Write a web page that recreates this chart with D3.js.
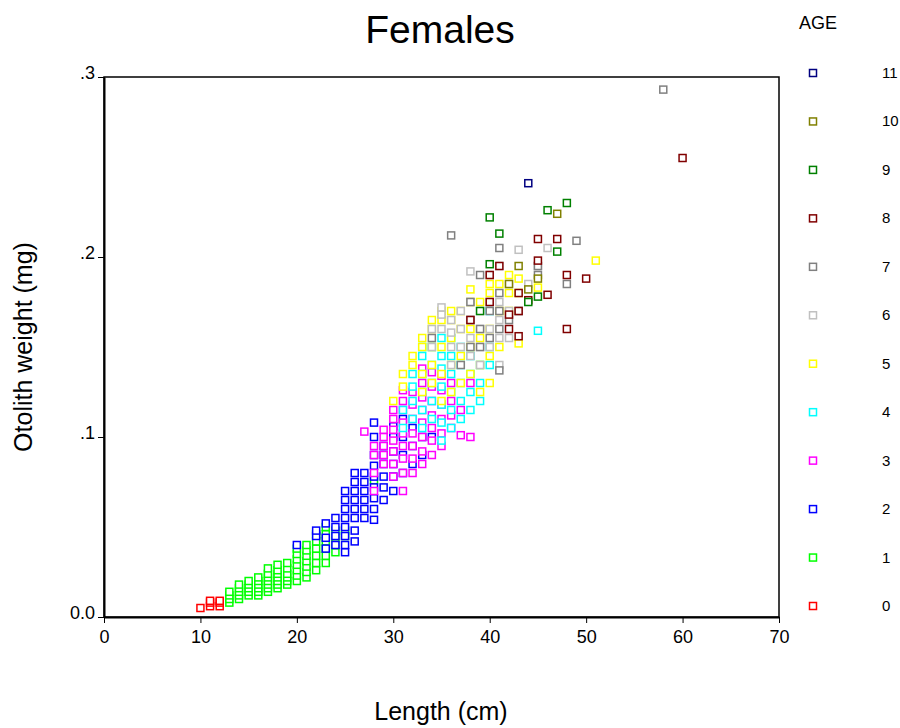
<!DOCTYPE html>
<html><head><meta charset="utf-8">
<script src="https://cdn.jsdelivr.net/npm/d3@7"></script>
<style>body{margin:0;background:#fff;font-family:"Liberation Sans",Arial,sans-serif}</style>
</head><body><svg id="chart" width="900" height="728"></svg>
<script>
// data: per age, [length, [otolith weights]]
var age0 = [[10,[.005]],[11,[.006,.008,.009]],[12,[.006,.008,.009]]];
var age1 = [[13,[.008,.010,.012,.014]],[14,[.010,.012,.014,.016,.018]],[15,[.012,.014,.016,.018,.020]],
  [16,[.012,.014,.016,.018,.020,.022]],[17,[.014,.016,.018,.020,.022,.024,.027]],[18,[.016,.018,.020,.022,.024,.026,.029]],
  [19,[.018,.020,.022,.024,.027,.030]],[20,[.020,.023,.026,.029,.032,.035,.038]],[21,[.022,.025,.028,.031,.034,.037,.040]],
  [22,[.026,.030,.034,.038,.042,.046]],[23,[.030,.034,.038,.042,.046,.050]],[24,[.036,.040,.044,.048]],[25,[.045,.048]],[28,[.076]]];
var age2 = [[20,[.040]],[22,[.045,.048]],[23,[.038,.044,.052]],[24,[.040,.045,.050,.055]],
  [25,[.036,.040,.045,.050,.055,.060,.065,.070]],[26,[.042,.048,.055,.060,.065,.070,.075,.080]],
  [27,[.055,.060,.065,.070,.075,.080]],[28,[.054,.060,.066,.072,.078,.084,.090,.100,.108]],
  [29,[.065,.072,.078,.085,.090,.095]],[30,[.070,.078,.085,.092,.100,.106]],[31,[.080,.090,.100,.110]],
  [32,[.085,.095,.105]],[33,[.090,.100]],[34,[.100]]];
var age3 = [[27,[.103]],[28,[.070,.080,.090,.095]],[29,[.085,.090,.095,.100,.104]],
  [30,[.078,.085,.092,.098,.104,.110,.115]],[31,[.070,.080,.088,.095,.102,.108,.115,.120,.126]],
  [32,[.080,.088,.095,.102,.110,.118,.125]],[33,[.085,.092,.100,.108,.115,.122,.130,.138]],
  [34,[.090,.098,.105,.112,.120,.128,.136]],[35,[.095,.102,.110,.118,.126,.134]],
  [36,[.105,.112,.120,.130]],[37,[.101,.115]],[38,[.100,.130]]];
var age4 = [[31,[.105,.115]],[32,[.110,.120,.128,.135]],[33,[.105,.115,.125,.135,.145,.150]],
  [34,[.110,.120,.130,.140,.150]],[35,[.098,.108,.118,.128,.138,.145,.155]],[36,[.105,.115,.125,.135,.145,.155]],
  [37,[.110,.120,.130,.140,.150]],[38,[.115,.125,.135,.145]],[39,[.120,.130,.140]],[40,[.140,.150,.170]],[45,[.159]]];
var age5 = [[30,[.120]],[31,[.128,.135]],[32,[.140,.145]],[33,[.125,.135,.150,.155]],[34,[.130,.140,.150,.160,.165]],
  [35,[.120,.135,.150,.165,.170]],[36,[.125,.140,.155,.165,.170]],[37,[.130,.145,.160,.170]],
  [38,[.135,.150,.160,.175,.182]],[39,[.125,.140,.155,.175]],[40,[.130,.145,.160,.180,.185]],
  [41,[.150,.170,.185]],[42,[.170,.180,.190]],[43,[.152,.180,.188]],[45,[.183]],[51,[.198]]];
var age6 = [[34,[.150,.160]],[35,[.160,.168,.172]],[36,[.140,.150,.158,.165]],[37,[.150,.160,.170]],
  [38,[.145,.155,.165,.175,.192]],[39,[.140,.150,.160,.170]],[40,[.150,.160,.175,.190]],
  [41,[.140,.155,.165,.175,.195]],[42,[.155,.170,.185]],[43,[.170,.204]],[44,[.185]],[45,[.195]],[46,[.205]]];
var age7 = [[34,[.155]],[36,[.212]],[37,[.140]],[38,[.150,.165,.175]],[39,[.150,.160,.190]],[40,[.155,.170]],
  [41,[.137,.160,.170,.180,.205]],[42,[.165]],[43,[.170]],[45,[.190,.195]],[48,[.185]],[49,[.209]],[58,[.293]]];
var age8 = [[38,[.165]],[40,[.175,.190]],[41,[.195]],[42,[.160,.168]],[43,[.156,.170,.180]],[44,[.176]],
  [45,[.198,.210]],[46,[.179]],[47,[.210]],[48,[.160,.190]],[50,[.188]],[60,[.255]]];
var age9 = [[39,[.170]],[40,[.196,.222]],[41,[.213]],[44,[.175]],[45,[.178]],[46,[.226]],[47,[.203]],[48,[.230]]];
var age10 = [[42,[.185]],[43,[.195]],[44,[.182]],[45,[.188]],[47,[.224]]];
var age11 = [[44,[.241]]];

var ages = [0,1,2,3,4,5,6,7,8,9,10,11];
var series = [age0,age1,age2,age3,age4,age5,age6,age7,age8,age9,age10,age11];
var colors = ["#ff0000","#00ff00","#0000ff","#ff00ff","#00ffff","#ffff00","#c0c0c0","#808080","#800000","#008000","#808000","#000080"];
var xTicks = [0,10,20,30,40,50,60,70];
var yTicks = [0,.1,.2,.3];
var yTickLabels = ["0.0",".1",".2",".3"];

var svg = d3.select("#chart");
var L = 104, R = 779, T = 77, B = 617;
var x = d3.scaleLinear().domain([0,70]).range([L,R]);
var y = d3.scaleLinear().domain([0,.3]).range([B,T]);

svg.append("rect").attr("x",L).attr("y",T).attr("width",R-L).attr("height",B-T)
  .attr("fill","none").attr("stroke","#000").attr("stroke-width",1.5);

svg.append("g").attr("transform","translate(0,"+B+")")
  .call(d3.axisBottom(x).tickValues(xTicks).tickSize(6).tickSizeOuter(0))
  .call(function(g){g.select(".domain").attr("stroke-width",2);
    g.selectAll("text").attr("font-size",18).attr("font-family","Liberation Sans, Arial").attr("dy","0.95em");});
svg.append("g").attr("transform","translate("+L+",0)")
  .call(d3.axisLeft(y).tickValues(yTicks).tickFormat(function(d,i){return yTickLabels[i];}).tickSize(6).tickSizeOuter(0))
  .call(function(g){g.select(".domain").attr("stroke-width",2);
    g.selectAll("text").attr("font-size",18).attr("font-family","Liberation Sans, Arial").attr("dy","0.1em");});

var pts = [];
series.forEach(function(s,a){ s.forEach(function(r){ r[1].forEach(function(w){ pts.push({a:a,l:r[0],w:w}); }); }); });
svg.append("g").selectAll("rect").data(pts).join("rect")
  .attr("x",function(d){return x(d.l)-3.5;}).attr("y",function(d){return y(d.w)-3.5;})
  .attr("width",7).attr("height",7).attr("fill","#fff")
  .attr("stroke",function(d){return colors[d.a];}).attr("stroke-width",1.5);

svg.append("text").attr("x",440).attr("y",43).attr("text-anchor","middle").attr("font-size",39).text("Females");
svg.append("text").attr("transform","translate(32,347) rotate(-90)").attr("text-anchor","middle").attr("font-size",25).text("Otolith weight (mg)");
svg.append("text").attr("x",441).attr("y",720).attr("text-anchor","middle").attr("font-size",25).text("Length (cm)");

// legend
svg.append("text").attr("x",818).attr("y",29).attr("text-anchor","middle").attr("font-size",18).text("AGE");
var ly = d3.scalePoint().domain(ages.slice().reverse()).range([73,606]);
var lg = svg.append("g").selectAll("g").data(ages).join("g").attr("transform",function(d){return "translate(0,"+ly(d)+")";});
lg.append("rect").attr("x",809.5).attr("y",-3.5).attr("width",7).attr("height",7).attr("fill","#fff")
  .attr("stroke",function(d){return colors[d];}).attr("stroke-width",1.5);
lg.append("text").attr("x",882).attr("y",5).attr("font-size",15).text(function(d){return d;});
</script></body></html>
